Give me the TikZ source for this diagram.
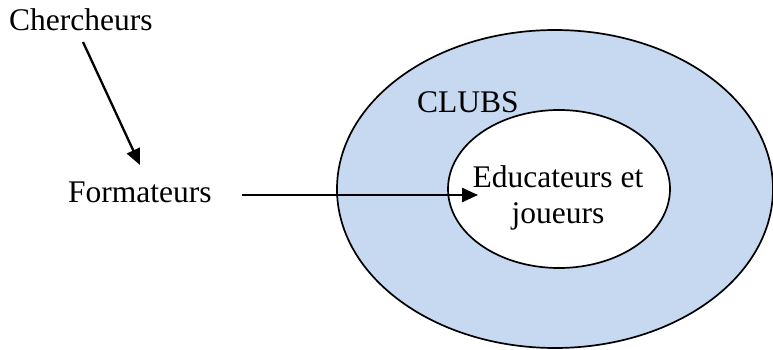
\documentclass[tikz,border=0pt]{standalone}
\usepackage{fontspec}
\setmainfont{Liberation Serif}
\usetikzlibrary{arrows.meta,shapes.geometric}
\definecolor{clubblue}{RGB}{198,217,240}
\begin{document}
\begin{tikzpicture}[x=1pt,y=-1pt,
  lbl/.style={font=\fontsize{31.5}{36}\selectfont, inner sep=0pt, anchor=base west},
  ring/.style={ellipse, draw=black, line width=1.7pt, inner sep=0pt},
  arr/.style={line width=2.3pt, -{Triangle[length=16pt,width=14pt]}}]
\useasboundingbox (0,0) rectangle (773,350);
\node[ring, fill=clubblue, minimum width=436pt, minimum height=318pt] (outer) at (555,189) {};
\node[ring, fill=white, minimum width=222pt, minimum height=158pt] (inner) at (559,189) {};
\node[lbl] (cherch) at (9,31) {Chercheurs};
\node[lbl] (form) at (68,202) {Formateurs};
\node[lbl] (clubs) at (417,113) {CLUBS};
\node[lbl, anchor=base, align=center] (edu) at (558,223) {Educateurs et\\joueurs};
\coordinate (c1) at (83,42);
\coordinate (c2) at (140,165);
\coordinate (f1) at (242,195);
\coordinate (f2) at (478,195);
\draw[arr] (c1) -- (c2);
\draw[arr] (f1) -- (f2);
\end{tikzpicture}
\end{document}
